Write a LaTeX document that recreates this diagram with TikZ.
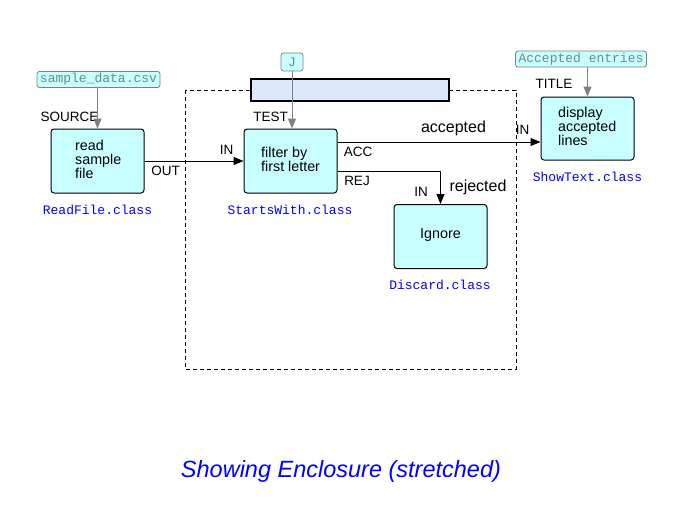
\documentclass[tikz,border=0pt]{standalone}
\usepackage{fontspec}
\setmainfont{Liberation Sans}
\newfontfamily\monof{Liberation Mono}
\usetikzlibrary{arrows.meta}
\definecolor{boxfill}{HTML}{C8FFFF}
\definecolor{barfill}{HTML}{DCE8FC}
\definecolor{paramtext}{HTML}{6A8C8C}
\definecolor{classblue}{HTML}{0000FF}
\tikzset{
  x=1pt, y=-1pt,
  compbox/.style={draw=black, line width=1pt, fill=boxfill, rounded corners=3pt, minimum width=93pt, minimum height=64pt, inner sep=0pt},
  boxtext/.style={align=left, anchor=west, inner sep=0pt, font=\fontsize{14.3}{14}\selectfont},
  parambox/.style={draw=gray, line width=0.8pt, fill=boxfill, rounded corners=2.5pt, inner xsep=3pt, inner ysep=2pt, text=paramtext, font=\monof\fontsize{13}{14}\selectfont},
  classlbl/.style={text=classblue, inner sep=0pt, font=\monof\fontsize{13}{14}\selectfont},
  portlbl/.style={inner sep=0pt, font=\fontsize{13.5}{14}\selectfont},
  flowlbl/.style={inner sep=0pt, font=\fontsize{16}{18}\selectfont},
  arr/.style={-{Triangle[length=10pt,width=8pt]}, line width=1pt},
  parr/.style={-{Triangle[length=10pt,width=8pt]}, draw=gray, line width=1pt},
}
\begin{document}
\begin{tikzpicture}
\useasboundingbox (0,0) rectangle (683,530);
% enclosure
\draw[dashed, dash pattern=on 4pt off 3pt, line width=0.8pt] (185,90) rectangle (516,369);
\node[draw=black, line width=1.3pt, fill=barfill, minimum width=198pt, minimum height=22pt, inner sep=0pt] (bar) at (350,90) {};
% components
\node[compbox] (rf) at (97.5,161) {};
\node[boxtext] (rft) at (75,159) {read\\sample\\file};
\node[classlbl] (rfc) at (97.5,210) {ReadFile.class};
\node[compbox] (sw) at (290.5,161) {};
\node[boxtext] (swt) at (261,159) {filter by\\first letter};
\node[classlbl] (swc) at (290,210) {StartsWith.class};
\node[compbox] (dc) at (440.5,236.5) {};
\node[boxtext, anchor=center] (dct) at (440.5,235) {Ignore};
\node[classlbl] (dcc) at (440,285) {Discard.class};
\node[compbox, minimum height=63pt] (st) at (587.5,128.5) {};
\node[boxtext] (stt) at (558,126) {display\\accepted\\lines};
\node[classlbl] (stc) at (587.5,177) {ShowText.class};
% parameters
\node[parambox] (sd) at (98.5,79.5) {sample\_data.csv};
\node[parambox, minimum width=22pt, minimum height=18pt] (j) at (292,62) {J};
\node[parambox] (ae) at (581,59) {Accepted entries};
% port labels
\node[portlbl] (src) at (69.5,117) {SOURCE};
\node[portlbl] (out) at (165.5,170.5) {OUT};
\node[portlbl] (in1) at (226.5,149.5) {IN};
\node[portlbl] (tst) at (270.5,117) {TEST};
\node[portlbl] (acc) at (358,151.5) {ACC};
\node[portlbl] (rej) at (357,180.5) {REJ};
\node[portlbl] (in2) at (421,192) {IN};
\node[portlbl] (ttl) at (554,84) {TITLE};
\node[portlbl] (in3) at (522.5,130) {IN};
\node[flowlbl] (accl) at (453.5,128.5) {accepted};
\node[flowlbl] (rejl) at (478,187.5) {rejected};
% connectors
\draw[parr] (sd.south -| rf.north) -- (rf.north);
\draw[parr] (j.south) -- (j.south |- sw.north);
\draw[parr] (ae.south -| st.north) -- (st.north);
\draw[arr] (rf.east) -- (sw.west);
\draw[arr] ([yshift=19pt]sw.east) -- ([yshift=19pt]sw.east -| st.west);
\draw[arr] ([yshift=-10pt]sw.east) -| (dc.north);
% title
\node[text=classblue, font=\fontsize{23.5}{28}\itshape\selectfont, inner sep=0pt] (title) at (341,471) {Showing Enclosure (stretched)};
\end{tikzpicture}
\end{document}
